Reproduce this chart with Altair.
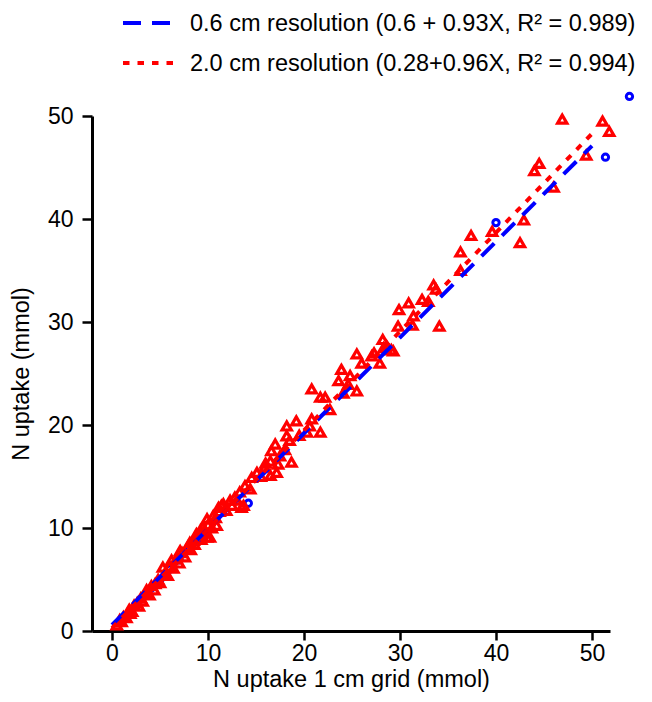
import altair as alt
import pandas as pd

# ---- data ----
red_x = [46.9, 51.1, 51.8, 49.4, 44.5, 44.0, 46.0, 42.9, 39.6, 42.5, 37.4, 36.3, 36.3,
         33.5, 33.75, 30.9, 29.9, 32.3, 32.95, 31.4, 29.8, 31.3, 34.1, 28.2, 29.1, 27.3, 28.3,
         28.6, 29.3, 27.05, 25.5, 27.9, 26.0, 23.9, 24.8, 23.6, 24.6, 25.5, 24.1, 20.8, 21.7,
         22.2, 22.7, 19.2, 20.8, 20.6, 20.3, 21.7,
         18.2, 18.2, 18.5, 17.0, 16.6, 18.7, 17.3, 16.5, 17.15, 16.5, 15.9, 15.1, 14.55, 13.85,
         14.4, 13.3, 12.8, 12.3, 13.5, 11.6, 11.1, 10.55, 9.9, 10.9, 9.5, 8.8, 9.9, 8.5,
         13.7, 11.4, 9.2, 10.2, 8.1, 7.1, 6.2, 5.3, 4.5, 3.6, 2.6, 1.9, 0.8,
         0.5, 1.0, 1.2, 1.5, 1.8, 2.1, 2.3, 2.8, 3.0, 3.2, 3.5, 3.9, 4.1, 4.4, 4.8, 5.0, 5.5,
         5.8, 6.0, 6.4, 6.7, 7.0, 7.3, 7.6, 7.9, 8.2, 8.6, 9.0, 9.3, 9.7, 10.0, 10.4, 10.8,
         11.2, 11.9, 12.5, 13.0, 15.5, 16.0, 17.5, 18.0, 19.5]
red_y = [49.7, 49.5, 48.5, 46.2, 45.4, 44.7, 43.1, 39.9, 38.8, 37.7, 38.4, 36.8, 35.0,
         33.6, 33.2, 31.85, 31.2, 32.2, 32.0, 30.6, 29.6, 29.7, 29.6, 28.3, 27.3, 27.0, 27.5,
         27.7, 27.2, 26.7, 26.9, 26.0, 26.0, 25.4, 24.8, 24.3, 23.95, 23.3, 23.1, 23.5, 22.7,
         22.7, 21.5, 20.4, 20.6, 19.9, 19.3, 19.3,
         19.9, 18.95, 18.5, 18.15, 17.5, 16.4, 16.2, 16.5, 15.4, 15.1, 15.9, 15.4, 14.9, 14.1,
         13.8, 13.5, 13.0, 12.7, 12.0, 12.35, 12.0, 11.2, 10.9, 10.25, 10.1, 9.45, 9.1, 8.8,
         12.2, 12.2, 9.8, 9.1, 8.6, 7.8, 6.9, 6.2, 4.6, 4.0, 2.7, 1.7, 1.1,
         0.6, 0.9, 1.4, 1.3, 2.1, 1.9, 2.5, 2.4, 3.2, 2.9, 3.6, 3.5, 4.4, 4.0, 5.0, 4.7, 5.6,
         5.4, 6.3, 6.1, 7.0, 6.6, 7.6, 7.2, 8.2, 7.9, 8.4, 9.3, 8.9, 9.6, 10.3, 10.0, 11.0,
         11.6, 11.7, 12.2, 12.7, 15.0, 16.3, 17.0, 17.6, 19.0]

blue_x = [14.2, 40.0, 51.4, 53.9, 1.0, 2.0, 3.0, 4.0, 5.0, 6.0, 7.0, 8.0, 9.0]
blue_y = [12.4, 39.65, 46.0, 51.9, 1.1, 2.1, 3.1, 4.1, 5.0, 6.0, 6.9, 7.9, 8.9]

series = ["0.6 cm resolution (0.6 + 0.93X, R² = 0.989)",
          "2.0 cm resolution (0.28+0.96X, R² = 0.994)"]
intercepts = [0.6, 0.28]
slopes = [0.93, 0.96]
fit_x = [0.0, 50.0]

ticks = [0, 10, 20, 30, 40, 50]

red_df = pd.DataFrame({"x": red_x, "y": red_y})
blue_df = pd.DataFrame({"x": blue_x, "y": blue_y})
fit_blue = pd.DataFrame({"x": fit_x, "y": [intercepts[0] + slopes[0] * v for v in fit_x]})
fit_red = pd.DataFrame({"x": fit_x, "y": [intercepts[1] + slopes[1] * v for v in fit_x]})

FONT = "Liberation Sans"
BLUE = "#0000ff"
RED = "#ff0000"

xs = alt.Scale(domain=[-2.083, 51.875], nice=False, zero=False)
ys = alt.Scale(domain=[0, 50], nice=False, zero=False)

common = dict(values=ticks, grid=False, tickWidth=2.5, domainWidth=3, domainColor="black",
              tickColor="black", labelColor="black", titleColor="black",
              labelFontSize=23, titleFontSize=23.5, labelFont=FONT, titleFont=FONT,
              titleFontWeight="normal")
xax = alt.Axis(title="N uptake 1 cm grid (mmol)", tickSize=9, labelPadding=2,
               titlePadding=2, **common)
yax = alt.Axis(title="N uptake (mmol)", tickSize=10, labelPadding=9,
               titlePadding=14, **common)

blue_pts = alt.Chart(blue_df).mark_point(
    shape="circle", filled=False, color=BLUE, strokeWidth=3, size=40, opacity=1
).encode(x=alt.X("x:Q", scale=xs, axis=xax), y=alt.Y("y:Q", scale=ys, axis=yax))

red_pts = alt.Chart(red_df).mark_point(
    shape="triangle-up", filled=False, color=RED, strokeWidth=3.2, size=85, opacity=1
).encode(x=alt.X("x:Q", scale=xs), y=alt.Y("y:Q", scale=ys))

blue_line = alt.Chart(fit_blue).mark_line(
    color=BLUE, strokeWidth=4, strokeDash=[18, 11]
).encode(x=alt.X("x:Q", scale=xs), y=alt.Y("y:Q", scale=ys))

red_line = alt.Chart(fit_red).mark_line(
    color=RED, strokeWidth=4, strokeDash=[6.5, 8]
).encode(x=alt.X("x:Q", scale=xs), y=alt.Y("y:Q", scale=ys))

one = alt.Data(values=[{}])
leg1_sym = alt.Chart(one).mark_rule(color=BLUE, strokeWidth=4, strokeDash=[18, 11]).encode(
    x=alt.value(31), x2=alt.value(78), y=alt.value(-93))
leg2_sym = alt.Chart(one).mark_rule(color=RED, strokeWidth=4, strokeDash=[6.5, 8]).encode(
    x=alt.value(31), x2=alt.value(81), y=alt.value(-53))
leg1_txt = alt.Chart(one).mark_text(
    text=series[0], font=FONT, fontSize=23.5, align="left", baseline="middle", color="black"
).encode(x=alt.value(98), y=alt.value(-92))
leg2_txt = alt.Chart(one).mark_text(
    text=series[1], font=FONT, fontSize=23.5, align="left", baseline="middle", color="black"
).encode(x=alt.value(98), y=alt.value(-52))

chart = alt.layer(
    blue_pts, red_pts, blue_line, red_line, leg1_sym, leg2_sym, leg1_txt, leg2_txt
).properties(
    width=518, height=515,
    autosize=alt.AutoSizeParams(type="none"),
    padding={"left": 84, "top": 108, "right": 34, "bottom": 63},
    background="white",
).configure_view(stroke=None)

chart.save("out.html", embed_options={"renderer": "svg", "actions": False})
